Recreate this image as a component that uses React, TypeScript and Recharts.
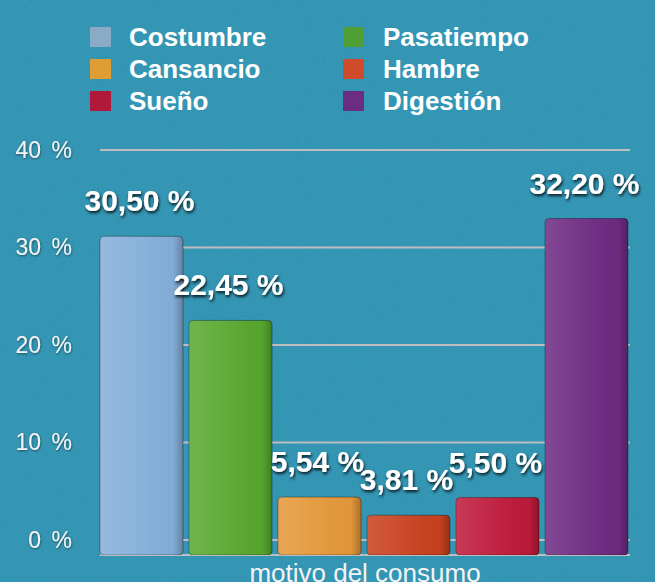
import React from 'react';
import { BarChart, Bar, XAxis, YAxis, CartesianGrid, LabelList } from 'recharts';

const categories = ['Costumbre', 'Pasatiempo', 'Cansancio', 'Hambre', 'Sueño', 'Digestión'];
const values = [30.5, 22.45, 5.54, 3.81, 5.5, 32.2];
const colors = ['#84afda', '#58a82f', '#e4983a', '#c8411f', '#be1a3b', '#6e2b82'];
const legendColors = ['#8aaac6', '#4f9f35', '#de9e34', '#cf4b2b', '#b0193a', '#6b2c81'];
const axisLabel = 'motivo del consumo';
const yTicks = [0, 10, 20, 30, 40];

const row: Record<string, string | number> = { motivo: axisLabel };
categories.forEach((c, i) => {
  row[c] = values[i];
});
const data = [row];

const fmt = (v: number) => v.toFixed(2).replace('.', ',') + ' %';
const FONT = '"Liberation Sans", Arial, Helvetica, sans-serif';

const BarShape = (props: any) => {
  const { x, y, width, height, fill } = props;
  if (!height || height <= 0) return null;
  return (
    <g>
      <rect x={x} y={y} width={width} height={height} rx={4} ry={4} fill={fill} stroke="rgba(0,0,0,0.35)" strokeWidth={1} />
      <rect x={x} y={y} width={width} height={height} rx={4} ry={4} fill="url(#sheen)" />
    </g>
  );
};

const YTick = (p: any) => (
  <text
    x={p.x}
    y={p.y}
    textAnchor="end"
    dominantBaseline="central"
    fill="#f4f4f4"
    fontSize={23}
    fontFamily={FONT}
    filter="url(#tshadowSmall)"
  >
    <tspan>{`${p.payload.value}`}</tspan>
    <tspan dx={4}>{' %'}</tspan>
  </text>
);

const XTick = (p: any) => (
  <text x={p.x} y={p.y} dy={17} textAnchor="middle" fill="#f4f4f4" fontSize={26} fontFamily={FONT}>
    {p.payload.value}
  </text>
);

const makeLabel = (p: any) => {
  const x = Number(p.x) + Number(p.width) / 2 - 2;
  const y = Number(p.y) - 25;
  return (
    <text
      x={x}
      y={y}
      textAnchor="middle"
      fill="#ffffff"
      fontSize={30}
      fontWeight="bold"
      fontFamily={FONT}
      filter="url(#tshadow)"
    >
      {fmt(Number(p.value))}
    </text>
  );
};

export default function App() {
  return (
    <div
      style={{
        position: 'absolute',
        left: 0,
        top: 0,
        width: 655,
        height: 582,
        background: '#2a93b3',
        overflow: 'hidden',
        fontFamily: FONT,
      }}
    >
      <svg width={655} height={582} style={{ position: 'absolute', left: 0, top: 0 }}>
        <defs>
          <filter id="noise" x="0" y="0" width="100%" height="100%">
            <feTurbulence type="fractalNoise" baseFrequency="0.9" numOctaves="2" seed="3" />
            <feColorMatrix type="saturate" values="0" />
            <feComponentTransfer>
              <feFuncA type="linear" slope="0.14" />
            </feComponentTransfer>
          </filter>
          <filter id="tshadow" x="-20%" y="-40%" width="140%" height="180%">
            <feDropShadow dx="1" dy="2" stdDeviation="1.6" floodColor="#000" floodOpacity="0.85" />
          </filter>
          <filter id="tshadowSmall" x="-20%" y="-40%" width="140%" height="180%">
            <feDropShadow dx="0.5" dy="1" stdDeviation="0.8" floodColor="#000" floodOpacity="0.5" />
          </filter>
          <linearGradient id="sheen" x1="0" y1="0" x2="1" y2="0">
            <stop offset="0" stopColor="#ffffff" stopOpacity="0.14" />
            <stop offset="0.5" stopColor="#ffffff" stopOpacity="0.04" />
            <stop offset="0.88" stopColor="#000000" stopOpacity="0.02" />
            <stop offset="1" stopColor="#000000" stopOpacity="0.25" />
          </linearGradient>
        </defs>
        <rect x={0} y={0} width={655} height={582} filter="url(#noise)" />
      </svg>

      {categories.map((c, i) => {
        const col = i % 2;
        const r = Math.floor(i / 2);
        const cy = 37 + 32 * r;
        return (
          <React.Fragment key={c}>
            <div
              style={{
                position: 'absolute',
                left: col ? 343 : 90,
                top: cy - 10,
                width: 21,
                height: 20,
                background: legendColors[i],
              }}
            />
            <div
              style={{
                position: 'absolute',
                left: col ? 383 : 129,
                top: cy - 15,
                height: 30,
                lineHeight: '30px',
                fontSize: 26,
                fontWeight: 'bold',
                color: '#ffffff',
                whiteSpace: 'nowrap',
              }}
            >
              {c}
            </div>
          </React.Fragment>
        );
      })}

      <div style={{ position: 'absolute', left: 0, top: 0 }}>
        <BarChart
          width={655}
          height={582}
          data={data}
          margin={{ top: 150, right: 25, bottom: 0, left: 0 }}
          barCategoryGap={0}
          barGap={6}
        >
          <CartesianGrid yAxisId="grid" vertical={false} stroke="#bdbdbd" strokeWidth={2} />
          <XAxis
            dataKey="motivo"
            height={27}
            axisLine={false}
            tickLine={false}
            tickSize={0}
            tickMargin={10}
            tick={XTick}
          />
          <YAxis
            yAxisId="grid"
            orientation="left"
            width={100}
            domain={[-1.54, 40]}
            ticks={yTicks}
            allowDataOverflow
            axisLine={false}
            tickLine={false}
            tickSize={0}
            tickMargin={28}
            tick={YTick}
          />
          <YAxis yAxisId="bars" orientation="right" width={0} hide domain={[0, 38.76]} allowDataOverflow />
          {categories.map((c, i) => (
            <Bar
              key={c}
              dataKey={c}
              name={c}
              yAxisId="bars"
              fill={colors[i]}
              isAnimationActive={false}
              shape={BarShape}
            >
              <LabelList dataKey={c} content={makeLabel} />
            </Bar>
          ))}
        </BarChart>
      </div>
    </div>
  );
}
